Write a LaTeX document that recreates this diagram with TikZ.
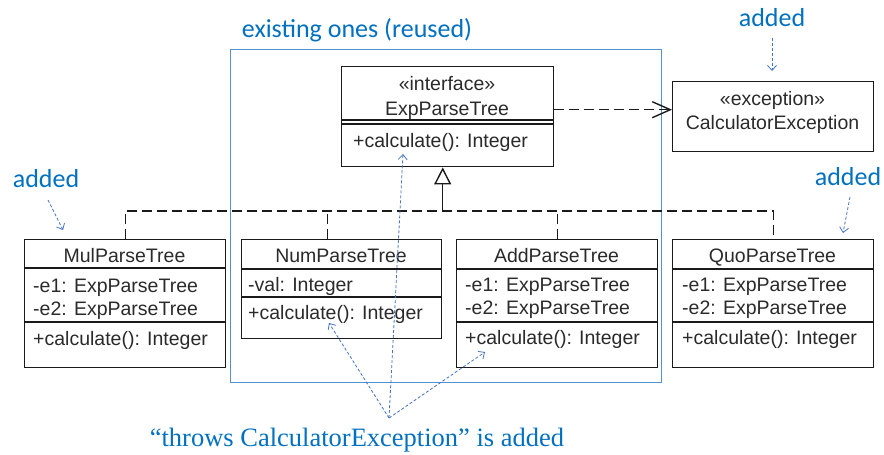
\documentclass[tikz,border=0pt]{standalone}
\usepackage{fontspec}
\setmainfont{Liberation Sans}
\newfontfamily\notefont{Carlito}
\newfontfamily\quotefont{Liberation Serif}
\usetikzlibrary{arrows.meta}
\definecolor{umlline}{HTML}{1A1A1A}
\definecolor{umltext}{HTML}{2A2A2A}
\definecolor{noteblue}{RGB}{0,112,192}
\definecolor{arrowblue}{RGB}{68,114,196}
\definecolor{frameblue}{RGB}{80,145,210}

\begin{document}
\begin{tikzpicture}[x=1pt,y=1pt,
  classbox/.style={draw=umlline, line width=1.4pt, inner sep=0pt, anchor=north west},
  member/.style={anchor=base west, inner sep=0pt, text=umltext, font=\fontsize{19.5}{22}\selectfont},
  ctitle/.style={anchor=base, inner sep=0pt, text=umltext, font=\fontsize{19.5}{22}\selectfont},
  sep/.style={draw=umlline, line width=1.3pt},
  realize/.style={draw=umlline, line width=1.4pt, dash pattern=on 10pt off 5pt},
  note/.style={text=noteblue, inner sep=0pt, anchor=base, font=\notefont\fontsize{26}{30}\selectfont},
  pointer/.style={draw=arrowblue, line width=0.8pt, dash pattern=on 3pt off 2pt,
    -{Straight Barb[length=5pt,width=9pt,line width=0.8pt]}}
]
\useasboundingbox (0,0) rectangle (884,-455);

% frame around the classes that are kept
\node[draw=frameblue, line width=1pt, inner sep=0pt, anchor=north west,
      minimum width=431pt, minimum height=333pt] (reused) at (230,-49) {};
\node[note] (reusedlbl) at (357,-37) {existing ones (reused)};

% interface
\node[classbox, minimum width=212pt, minimum height=100pt] (exp) at (341,-66) {};
\draw[sep] ([yshift=-54pt]exp.north west) -- ([yshift=-54pt]exp.north east);
\draw[sep] ([yshift=-58pt]exp.north west) -- ([yshift=-58pt]exp.north east);
\node[ctitle] (expst) at (447,-90) {«interface»};
\node[ctitle] (expname) at (447,-115) {ExpParseTree};
\node[member] (expop) at (353,-147) {+calculate(): Integer};

% exception
\node[classbox, minimum width=201pt, minimum height=70pt] (calc) at (672,-81) {};
\node[ctitle] (calcst) at (772.5,-105) {«exception»};
\node[ctitle] (calcname) at (772.5,-129) {CalculatorException};

% MulParseTree
\node[classbox, minimum width=201pt, minimum height=128pt] (mul) at (24,-239) {};
\draw[sep] ([yshift=-29pt]mul.north west) -- ([yshift=-29pt]mul.north east);
\draw[sep] ([yshift=-83pt]mul.north west) -- ([yshift=-83pt]mul.north east);
\node[ctitle] (mulname) at (124.5,-262) {MulParseTree};
\node[member] (mula) at (33,-292) {-e1: ExpParseTree};
\node[member] (mulb) at (33,-315) {-e2: ExpParseTree};
\node[member] (mulop) at (33,-345) {+calculate(): Integer};

% NumParseTree
\node[classbox, minimum width=200pt, minimum height=99pt] (num) at (241,-239) {};
\draw[sep] ([yshift=-30pt]num.north west) -- ([yshift=-30pt]num.north east);
\draw[sep] ([yshift=-58pt]num.north west) -- ([yshift=-58pt]num.north east);
\node[ctitle] (numname) at (341,-262) {NumParseTree};
\node[member] (numa) at (248,-291) {-val: Integer};
\node[member] (numop) at (248,-319) {+calculate(): Integer};

% AddParseTree
\node[classbox, minimum width=201pt, minimum height=128pt] (add) at (456,-239) {};
\draw[sep] ([yshift=-30pt]add.north west) -- ([yshift=-30pt]add.north east);
\draw[sep] ([yshift=-83pt]add.north west) -- ([yshift=-83pt]add.north east);
\node[ctitle] (addname) at (556.5,-262) {AddParseTree};
\node[member] (adda) at (465,-291) {-e1: ExpParseTree};
\node[member] (addb) at (465,-314) {-e2: ExpParseTree};
\node[member] (addop) at (465,-344) {+calculate(): Integer};

% QuoParseTree
\node[classbox, minimum width=201pt, minimum height=128pt] (quo) at (672,-239) {};
\draw[sep] ([yshift=-30pt]quo.north west) -- ([yshift=-30pt]quo.north east);
\draw[sep] ([yshift=-83pt]quo.north west) -- ([yshift=-83pt]quo.north east);
\node[ctitle] (quoname) at (772.5,-262) {QuoParseTree};
\node[member] (quoa) at (682,-291) {-e1: ExpParseTree};
\node[member] (quob) at (682,-314) {-e2: ExpParseTree};
\node[member] (quoop) at (682,-344) {+calculate(): Integer};

% realization of the interface
\coordinate (busy) at (0,-211);
\coordinate (gen) at ([xshift=-5pt]exp.south);
\coordinate (numtop) at ([xshift=-14pt]num.north);
\draw[realize] (mul.north) -- (mul.north |- busy) -- (quo.north |- busy) -- (quo.north);
\draw[realize] (numtop) -- (numtop |- busy);
\draw[realize] (add.north) -- (add.north |- busy);
\draw[umlline, line width=1.4pt, -{Triangle[open, length=17pt, width=17pt, line width=1.4pt]}]
  (gen |- busy) -- (gen);

% dependency on the exception
\draw[realize, -{Straight Barb[length=18pt, width=16pt, line width=1.4pt]}]
  ([yshift=7pt]exp.east) -- ([yshift=7pt]calc.west);

% notes
\node[note] (addtop) at (772,-27) {added};
\coordinate (addtopa) at (772,-38);
\coordinate (addtopb) at (772,-71);
\draw[pointer] (addtopa) -- (addtopb);

\node[note] (addleft) at (46,-187) {added};
\coordinate (addlefta) at (48,-200);
\coordinate (addleftb) at (63,-230);
\draw[pointer] (addlefta) -- (addleftb);

\node[note] (addright) at (848,-185) {added};
\coordinate (addrighta) at (850,-197);
\coordinate (addrightb) at (843,-233);
\draw[pointer] (addrighta) -- (addrightb);

\node[text=noteblue, inner sep=0pt, anchor=base, font=\quotefont\fontsize{26.5}{30}\selectfont]
  (throws) at (357,-446) {“throws CalculatorException” is added};
\coordinate (hub) at (389,-418);
\coordinate (expcall) at (403,-154);
\coordinate (numcall) at (329,-323);
\coordinate (addcall) at (485,-352);
\draw[pointer] (hub) -- (expcall);
\draw[pointer] (hub) -- (numcall);
\draw[pointer] (hub) -- (addcall);
\end{tikzpicture}
\end{document}
